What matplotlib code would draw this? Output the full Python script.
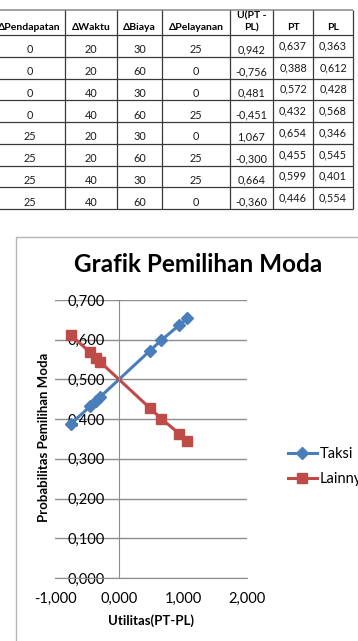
import matplotlib
matplotlib.use('Agg')
import matplotlib.pyplot as plt
import numpy as np
from matplotlib.patches import Rectangle
from matplotlib.ticker import FuncFormatter, MultipleLocator

plt.rcParams['font.family'] = ['Lato', 'DejaVu Sans']

# table data
headers = ['ΔPendapatan', 'ΔWaktu', 'ΔBiaya', 'ΔPelayanan', 'U(PT -\nPL)', 'PT', 'PL']
d_pendapatan = [0, 0, 0, 0, 25, 25, 25, 25]
d_waktu = [20, 20, 40, 40, 20, 20, 40, 40]
d_biaya = [30, 60, 30, 60, 30, 60, 30, 60]
d_pelayanan = [25, 0, 0, 25, 0, 25, 25, 0]
utilitas = [0.942, -0.756, 0.481, -0.451, 1.067, -0.300, 0.664, -0.360]
p_taksi = [0.637, 0.388, 0.572, 0.432, 0.654, 0.455, 0.599, 0.446]
p_lainnya = [0.363, 0.612, 0.428, 0.568, 0.346, 0.545, 0.401, 0.554]

x_ticks = [-1, 0, 1, 2]


def fmt(v, pos=None):
    return f"{v:.3f}".replace('.', ',')


fig = plt.figure(figsize=(3.58, 6.41), dpi=100)

# background axes in pixel units for the table and chart frame
bg = fig.add_axes([0, 0, 1, 1])
bg.set_xlim(0, 358)
bg.set_ylim(641, 0)
bg.axis('off')

col_edges = [-6, 65, 117, 162, 230, 273, 313, 353]
top = 10
head_h = 25
row_h = 21.75
n_rows = len(utilitas)
bottom = top + head_h + n_rows * row_h

line_c = '#3a3a3a'
bg.hlines([top], col_edges[0], col_edges[-1], color='#909090', lw=1.2)
for i in range(n_rows + 1):
    bg.hlines(top + head_h + i * row_h, col_edges[0], col_edges[-1], color=line_c, lw=0.9)
bg.vlines(col_edges, top, bottom, color=line_c, lw=0.9)

centers = [(col_edges[i] + col_edges[i + 1]) / 2 for i in range(len(headers))]
for c, h in zip(centers, headers):
    bg.text(c, top + head_h - 3, h, ha='center', va='bottom', fontsize=7.5,
            fontweight='bold', linespacing=1.3)

rows = zip(d_pendapatan, d_waktu, d_biaya, d_pelayanan, utilitas, p_taksi, p_lainnya)
for r, (a, b, c, d, u, pt, pl) in enumerate(rows):
    y0 = top + head_h + r * row_h
    vals = [str(a), str(b), str(c), str(d), fmt(u), fmt(pt), fmt(pl)]
    for j, v in enumerate(vals):
        yy = y0 + row_h * (0.68 if j < 5 else 0.5)
        bg.text(centers[j], yy, v, ha='center', va='center', fontsize=7.8, color='#1a1a1a')

# chart frame
bg.add_patch(Rectangle((16, 237), 420, 500, fill=False, ec='#b5b5b5', lw=1))

# chart
ax = fig.add_axes([55 / 358, 63 / 641, 192 / 358, 278 / 641])
ax.set_facecolor('none')
ax.set_xlim(-1, 2)
ax.set_ylim(0, 0.7)
ax.set_xticks(x_ticks)
ax.yaxis.set_major_locator(MultipleLocator(0.1))
ax.xaxis.set_major_formatter(FuncFormatter(fmt))
ax.yaxis.set_major_formatter(FuncFormatter(fmt))
ax.yaxis.grid(True, color='#8c8c8c', lw=1)
ax.set_axisbelow(True)
for s in ['top', 'right']:
    ax.spines[s].set_visible(False)
ax.spines['bottom'].set_color('#8c8c8c')
ax.spines['left'].set_position(('data', 0))
ax.spines['left'].set_color('#8c8c8c')
ax.tick_params(axis='y', length=0, pad=10, labelsize=10.5)
ax.tick_params(axis='x', length=0, pad=10, labelsize=10.5)

order = np.argsort(utilitas)
u_sorted = np.array(utilitas)[order]
ax.plot(u_sorted, np.array(p_taksi)[order], color='#4a7ebb', lw=2.2,
        marker='D', ms=6, label='Taksi', clip_on=False)
ax.plot(u_sorted, np.array(p_lainnya)[order], color='#be4b48', lw=2.2,
        marker='s', ms=7.5, label='Lainnya', clip_on=False)

fig.text(198 / 358, 1 - 265 / 641, 'Grafik Pemilihan Moda', ha='center', va='center',
         fontsize=17.5, fontweight='bold')
fig.text(151 / 358, 1 - 621 / 641, 'Utilitas(PT-PL)', ha='center', va='center',
         fontsize=9.5, fontweight='bold')
fig.text(44 / 358, 1 - 437 / 641, 'Probabilitas Pemilihan Moda', ha='center', va='center',
         rotation=90, fontsize=9.5, fontweight='bold')

fig.legend(loc='upper left', bbox_to_anchor=(282 / 358, 1 - 441 / 641), frameon=False,
           fontsize=10.5, handlelength=2.0, labelspacing=0.8, handletextpad=0.2,
           borderaxespad=0)

fig.savefig('out.png', dpi=100)
